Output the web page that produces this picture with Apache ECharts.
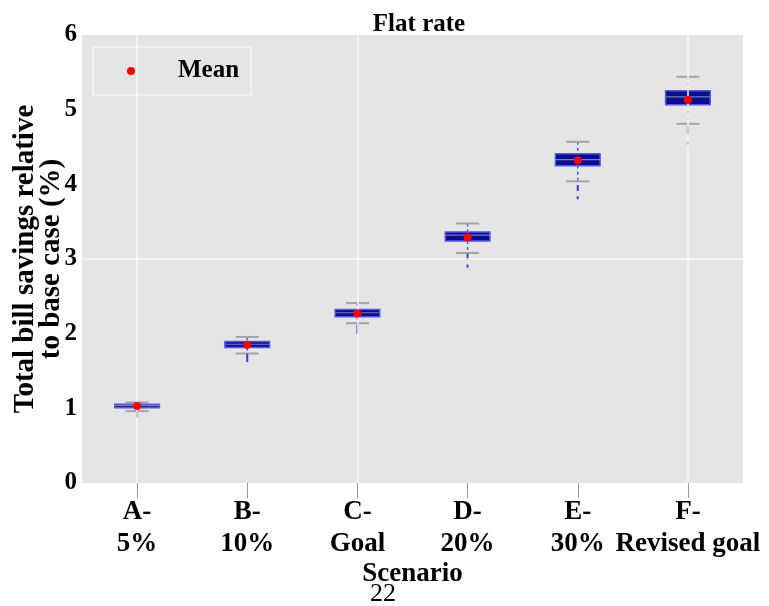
<!DOCTYPE html>
<html>
<head>
<meta charset="utf-8">
<script src="https://cdn.jsdelivr.net/npm/echarts@6/dist/echarts.min.js"></script>
<style>html,body{margin:0;padding:0;background:#fff;}#c{width:769px;height:606px;}</style>
</head>
<body>
<div id="c"></div>
<script>
const categories = ['A-\n5%', 'B-\n10%', 'C-\nGoal', 'D-\n20%', 'E-\n30%', 'F-\nRevised goal'];
const yTicks = [0, 1, 2, 3, 4, 5, 6];
// [lower whisker, Q1, median, Q3, upper whisker]
const boxA = [0.963, 1.007, 1.036, 1.056, 1.079];
const boxB = [1.734, 1.814, 1.858, 1.894, 1.956];
const boxC = [2.14, 2.225, 2.28, 2.325, 2.41];
const boxD = [3.08, 3.24, 3.32, 3.36, 3.476];
const boxE = [4.04, 4.25, 4.33, 4.41, 4.57];
const boxF = [4.81, 5.067, 5.17, 5.254, 5.44];
const means = [1.03, 1.85, 2.27, 3.29, 4.32, 5.13];
const outliersA = [0.94, 0.92, 0.90];
const outliersB = [1.71, 1.68, 1.64];
const outliersC = [2.10, 2.06, 2.02];
const outliersD = [3.05, 3.01, 2.905];
const outliersE = [3.97, 3.93, 3.82];
const outliersF = [4.76, 4.72, 4.69, 4.55];

const boxes = [boxA, boxB, boxC, boxD, boxE, boxF];
const outlierLists = [outliersA, outliersB, outliersC, outliersD, outliersE, outliersF];
const boxData = boxes.map((b, i) => [i].concat(b));
const outlierData = [];
outlierLists.forEach((l, i) => l.forEach(v => outlierData.push([i, v])));
const meanData = means.map((v, i) => [i, v]);

const FONT = 'Liberation Serif';

function renderBox(params, api) {
  const x = api.value(0);
  const lo = api.coord([x, api.value(1)]);
  const q1 = api.coord([x, api.value(2)]);
  const md = api.coord([x, api.value(3)]);
  const q3 = api.coord([x, api.value(4)]);
  const hi = api.coord([x, api.value(5)]);
  const band = api.size([1, 0])[0];
  const bw = band * 0.405;
  const cw = band * 0.21;
  const cx = lo[0];
  const whisk = {stroke: '#4b4bff', lineWidth: 1.4, lineDash: [3, 3]};
  const cap = {stroke: '#a4a4a4', lineWidth: 2};
  return {
    type: 'group',
    children: [
      {type: 'line', shape: {x1: cx, y1: hi[1], x2: cx, y2: q3[1]}, style: whisk},
      {type: 'line', shape: {x1: cx, y1: q1[1], x2: cx, y2: lo[1]}, style: whisk},
      {type: 'line', shape: {x1: cx - cw / 2, y1: hi[1], x2: cx + cw / 2, y2: hi[1]}, style: cap},
      {type: 'line', shape: {x1: cx - cw / 2, y1: lo[1], x2: cx + cw / 2, y2: lo[1]}, style: cap},
      {type: 'rect', shape: {x: cx - bw / 2, y: q3[1], width: bw, height: q1[1] - q3[1]},
        style: {fill: '#0c0c8e', stroke: '#5656e6', lineWidth: 1.5}},
      {type: 'line', shape: {x1: cx - bw / 2, y1: md[1], x2: cx + bw / 2, y2: md[1]},
        style: {stroke: '#7a7ab8', lineWidth: 1.2}}
    ]
  };
}

const chart = echarts.init(document.getElementById('c'));
chart.setOption({
  animation: false,
  backgroundColor: '#ffffff',
  title: {
    text: 'Flat rate', left: 414, top: 7, textAlign: 'center',
    textStyle: {fontFamily: FONT, fontWeight: 'bold', fontSize: 25, color: '#000'}
  },
  legend: {
    data: ['Mean'], left: 93, top: 47, orient: 'vertical',
    icon: 'circle', itemWidth: 8, itemHeight: 8,
    padding: [10, 12, 10, 34],
    backgroundColor: '#e5e5e5', borderColor: '#f3f3f3', borderWidth: 1.5,
    textStyle: {fontFamily: FONT, fontWeight: 'bold', fontSize: 25, color: '#000', padding: [0, 0, 0, 38], lineHeight: 28}
  },
  grid: {
    left: 82, right: 26, top: 35, bottom: 123,
    outerBoundsMode: 'none', containLabel: false,
    show: true, backgroundColor: '#e5e5e5', borderWidth: 0
  },
  xAxis: {
    type: 'category', data: categories,
    name: 'Scenario', nameLocation: 'middle', nameGap: 78, nameMoveOverlap: false,
    nameTextStyle: {fontFamily: FONT, fontWeight: 'bold', fontSize: 27, color: '#000'},
    axisLine: {show: false},
    axisTick: {show: true, alignWithLabel: true, length: 15, lineStyle: {color: '#999', width: 1}},
    axisLabel: {fontFamily: FONT, fontWeight: 'bold', fontSize: 27, color: '#000', lineHeight: 32, margin: 13, interval: 0},
    splitLine: {show: false}
  },
  yAxis: {
    type: 'value', min: yTicks[0], max: yTicks[yTicks.length - 1], interval: 1,
    name: 'Total bill savings relative\nto base case (%)', nameLocation: 'middle', nameGap: 17, nameMoveOverlap: false,
    nameTextStyle: {fontFamily: FONT, fontWeight: 'bold', fontSize: 29, color: '#000', lineHeight: 26},
    axisLine: {show: false}, axisTick: {show: false},
    axisLabel: {fontFamily: FONT, fontWeight: 'bold', fontSize: 25, color: '#000', margin: 5},
    splitLine: {show: false}
  },
  series: [
    {
      type: 'scatter', name: 'grid', data: [], z: 1, silent: true,
      markLine: {
        silent: true, symbol: ['none', 'none'], label: {show: false},
        lineStyle: {type: 'solid', color: '#f6f6f6', width: 1.5},
        data: [{xAxis: categories[0]}, {xAxis: categories[2]}, {xAxis: categories[5]}, {yAxis: yTicks[3]}]
      }
    },
    {
      type: 'custom', name: 'box', data: boxData, renderItem: renderBox, z: 3,
      encode: {x: 0, y: [1, 2, 3, 4, 5]}
    },
    {
      type: 'scatter', name: 'outliers', data: outlierData, symbol: 'rect', symbolSize: [2, 3], z: 4,
      itemStyle: {color: '#3d3dd6', opacity: 1}
    },
    {
      type: 'scatter', name: 'Mean', data: meanData, symbol: 'circle', symbolSize: 8, z: 5,
      itemStyle: {color: '#ff0000', opacity: 1}
    }
  ],
  graphic: [
    {type: 'text', left: 370, top: 581,
      style: {text: '22', fontFamily: FONT, fontSize: 26, fill: '#000'}}
  ]
});
</script>
</body>
</html>
